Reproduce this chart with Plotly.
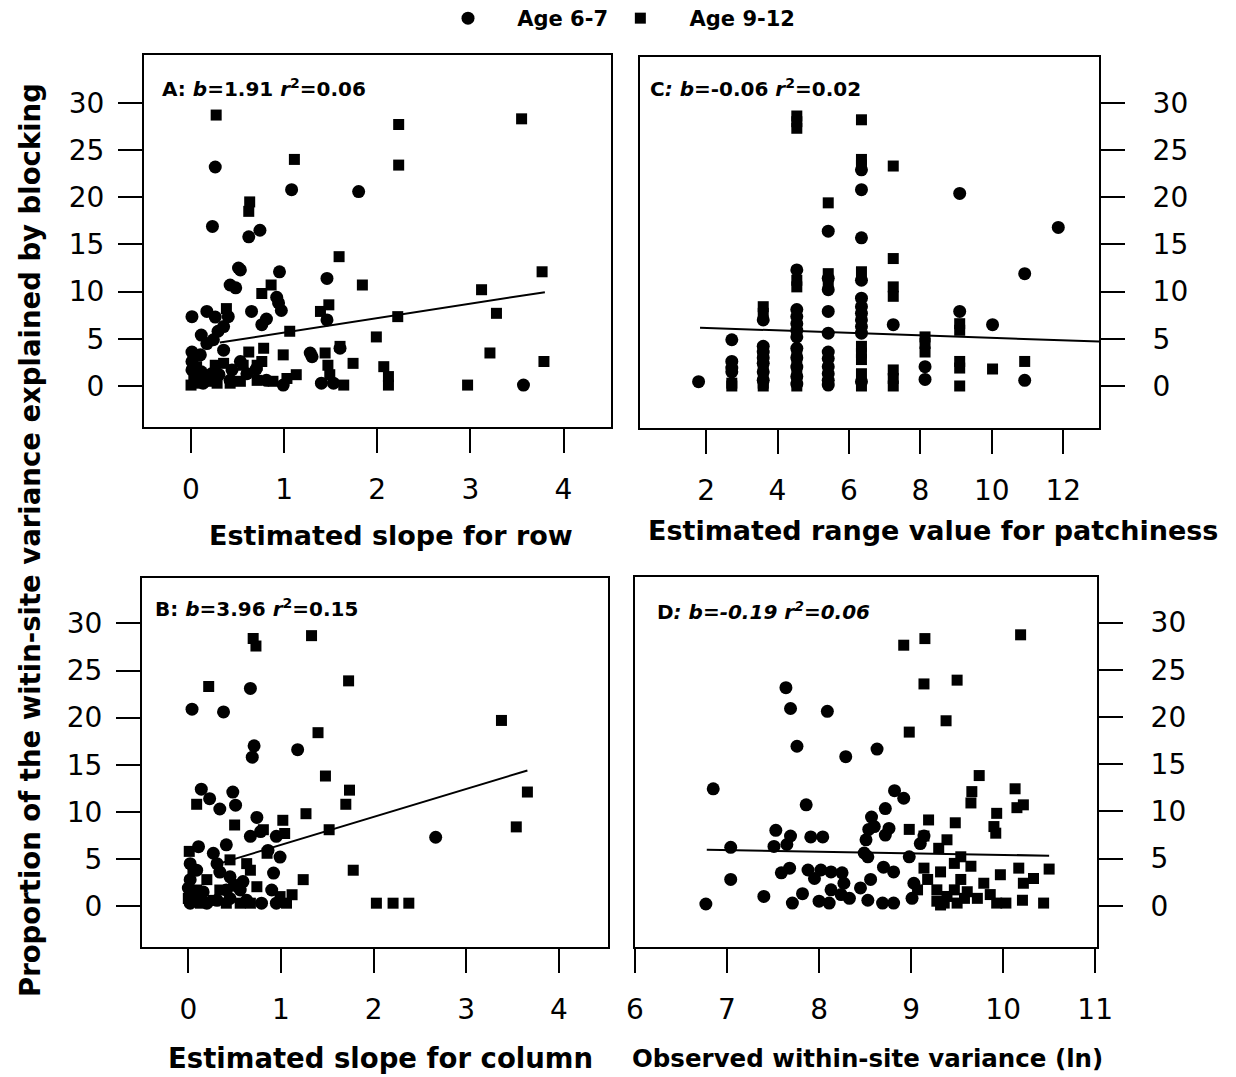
import plotly.graph_objects as go

# ---------------- data ----------------
# Panel A: estimated slope for row
a_circ_x = [0.26, 1.08, 1.80, 0.23, 0.74, 0.62, 0.53, 0.51, 0.95, 1.46, 0.42, 0.48, 0.92, 0.94, 0.97, 0.65,
            0.17, 0.01, 0.26, 0.81, 0.76, 1.46, 0.40, 0.35, 0.29, 0.11, 0.24, 0.35, 0.01, 0.10, 0.17, 1.28,
            1.30, 1.60, 0.53, 0.01, 0.01, 0.11, 0.22, 0.44, 0.60, 0.99, 1.40, 3.57, 0.81, 0.42, 0.13, 1.53,
            0.05, 0.20, 0.30, 0.70]
a_circ_y = [23.2, 20.8, 20.6, 16.9, 16.5, 15.8, 12.3, 12.5, 12.1, 11.4, 10.7, 10.4, 9.4, 8.8, 8.0, 7.9,
            7.9, 7.35, 7.3, 7.1, 6.5, 7.0, 7.35, 6.3, 5.8, 5.4, 4.9, 3.8, 3.6, 3.3, 4.5, 3.5,
            3.1, 4.0, 2.6, 2.6, 1.7, 1.5, 1.3, 1.7, 1.3, 0.1, 0.3, 0.1, 0.6, 0.6, 0.3, 0.3,
            0.8, 1.0, 1.2, 1.8]
a_sq_x = [0.27, 2.23, 3.55, 1.11, 2.23, 0.63, 0.62, 1.59, 3.77, 1.84, 0.86, 0.76, 3.12, 0.38, 1.48, 1.39,
          2.22, 3.28, 1.06, 1.99, 3.21, 3.79, 2.97, 2.07, 2.12, 2.12, 1.44, 1.60, 1.74, 1.47, 1.64, 1.49,
          0.99, 0.78, 0.62, 1.13, 1.03, 0.88, 0.71, 0.53, 0.42, 0.28, 0.17, 0.06, 0.00, 0.56, 0.71, 0.35,
          0.76, 0.26, 0.06, 0.03]
a_sq_y = [28.7, 27.7, 28.3, 24.0, 23.4, 19.5, 18.5, 13.7, 12.1, 10.7, 10.7, 9.8, 10.2, 8.2, 8.6, 7.9,
          7.35, 7.7, 5.8, 5.2, 3.5, 2.6, 0.1, 2.05, 1.0, 0.1, 3.5, 4.2, 2.4, 2.2, 0.1, 1.2,
          3.3, 4.0, 3.6, 1.2, 0.8, 0.5, 0.6, 0.5, 0.3, 0.3, 0.5, 0.3, 0.1, 2.2, 2.2, 2.4,
          2.6, 2.2, 2.05, 1.2]

# Panel B: estimated slope for column
b_circ_x = [0.67, 0.04, 0.38, 0.71, 0.69, 1.18, 2.67, 0.14, 0.23, 0.34, 0.48, 0.51, 0.74, 0.78, 0.95, 0.99,
            0.86, 0.92, 0.79, 0.95, 0.67, 0.41, 0.11, 0.27, 0.02, 0.09, 0.31, 0.34, 0.45, 0.02, 0.00, 0.16,
            0.41, 0.59, 0.56, 0.31, 0.02, 0.20, 0.45, 0.63, 0.90, 0.10, 0.50]
b_circ_y = [23.1, 20.9, 20.6, 17.0, 15.8, 16.6, 7.3, 12.4, 11.4, 10.3, 12.1, 10.7, 9.4, 7.9, 7.4, 5.2,
            5.9, 3.5, 0.3, 0.3, 7.4, 6.5, 6.3, 5.6, 4.5, 3.8, 4.5, 3.6, 3.1, 2.8, 1.9, 1.5,
            1.7, 2.6, 1.7, 0.6, 0.3, 0.3, 0.8, 0.6, 1.7, 1.0, 2.2]
b_sq_x = [0.70, 0.73, 1.33, 0.22, 1.73, 3.38, 1.40, 1.48, 1.74, 3.66, 1.70, 0.09, 1.27, 1.02, 1.04, 1.52,
          0.50, 3.54, 0.01, 1.78, 1.24, 2.03, 2.21, 2.38, 0.63, 0.45, 0.05, 0.09, 0.27, 0.56, 0.74, 0.99,
          1.12, 1.06, 0.13, 0.00, 0.49, 0.67, 0.20, 0.34, 0.85, 0.81, 0.41, 0.67]
b_sq_y = [28.4, 27.6, 28.7, 23.3, 23.9, 19.7, 18.4, 13.8, 12.3, 12.1, 10.8, 10.8, 9.8, 9.1, 7.7, 8.1,
          8.6, 8.4, 5.8, 3.8, 2.8, 0.3, 0.3, 0.3, 4.5, 4.9, 3.8, 1.7, 0.6, 0.3, 2.05, 1.0,
          1.2, 0.3, 0.3, 0.8, 2.2, 3.8, 2.8, 1.7, 5.6, 8.1, 0.3, 0.3]

# Panel C: estimated range value for patchiness
c_circ_x = [1.79, 2.72, 2.72, 2.72, 2.72, 3.60, 3.60, 3.60, 3.60, 3.60, 3.60, 3.60,
            4.54, 4.54, 4.54, 4.54, 4.54, 4.54, 4.54, 4.54, 4.54, 4.54, 4.54,
            5.42, 5.42, 5.42, 5.42, 5.42, 5.42, 5.42, 5.42, 5.42, 5.42, 5.42,
            6.35, 6.35, 6.35, 6.35, 6.35, 6.35, 6.35, 6.35, 6.35, 6.35, 6.35,
            7.24, 8.13, 8.13, 9.10, 9.10, 10.02, 10.92, 10.92, 11.86]
c_circ_y = [0.46, 4.9, 2.6, 1.9, 1.5, 7.0, 4.2, 3.6, 3.0, 2.4, 1.5, 0.6,
            12.3, 8.1, 7.35, 6.6, 5.9, 5.2, 4.0, 3.0, 2.0, 1.0, 0.2,
            16.4, 11.4, 10.2, 7.9, 5.6, 3.6, 2.9, 2.05, 1.3, 0.6, 0.1,
            22.9, 20.8, 15.7, 11.2, 9.3, 8.4, 7.7, 7.0, 6.3, 5.6, 0.46,
            6.5, 2.05, 0.7, 20.4, 7.9, 6.5, 11.9, 0.6, 16.8]
c_sq_x = [2.72, 2.72, 3.60, 3.60, 3.60, 3.60, 3.60, 3.60, 3.60, 3.60,
          4.54, 4.54, 4.54, 4.54, 4.54, 4.54, 4.54, 4.54, 4.54, 4.54,
          5.42, 5.42, 5.42, 6.35, 6.35, 6.35, 6.35, 6.35, 6.35, 6.35, 6.35, 6.35,
          7.24, 7.24, 7.24, 7.24, 7.24, 7.24, 7.24, 8.13, 8.13, 8.13,
          9.10, 9.10, 9.10, 9.10, 9.10, 10.02, 10.92]
c_sq_y = [0.3, 0.0, 8.4, 7.7, 4.0, 3.2, 2.0, 1.0, 0.3, 0.0,
          28.6, 28.0, 27.3, 11.2, 10.5, 3.5, 2.5, 1.5, 0.5, 0.0,
          19.4, 11.9, 11.0, 28.2, 24.0, 23.4, 12.1, 4.2, 3.5, 2.8, 1.3, 0.0,
          23.3, 13.5, 10.5, 9.5, 1.7, 0.8, 0.0, 5.2, 4.5, 3.6,
          6.6, 5.9, 2.6, 1.9, 0.0, 1.8, 2.6]

# Panel D: observed within-site variance (ln)
d_circ_x = [6.77, 6.85, 7.04, 7.04, 7.40, 7.64, 7.69, 7.76, 7.86, 8.09, 8.29, 8.63, 8.82, 8.92, 8.72, 8.57,
            7.53, 7.51, 7.69, 7.65, 7.91, 8.04, 7.59, 7.68, 7.71, 7.82, 7.88, 7.95, 8.02, 8.13, 8.00, 8.11,
            8.13, 8.24, 8.25, 8.33, 8.27, 8.45, 8.53, 8.56, 8.51, 8.49, 8.53, 8.70, 8.81, 8.69, 8.81, 8.98,
            9.03, 9.01, 9.10, 9.14, 8.76, 8.72, 8.60, 8.54]
d_circ_y = [0.2, 12.4, 2.8, 6.2, 1.0, 23.1, 20.9, 16.9, 10.7, 20.6, 15.8, 16.6, 12.2, 11.4, 10.3, 9.4,
            8.0, 6.3, 7.4, 6.5, 7.3, 7.3, 3.5, 4.0, 0.3, 1.3, 3.8, 2.9, 3.8, 3.6, 0.5, 0.3,
            1.7, 1.2, 3.5, 0.8, 2.4, 1.9, 0.6, 2.8, 7.0, 5.6, 5.2, 4.1, 3.6, 0.3, 0.3, 5.2,
            2.4, 0.8, 6.6, 7.4, 8.2, 7.5, 8.4, 8.1]
d_sq_x = [8.92, 9.15, 10.19, 9.14, 9.50, 9.38, 8.98, 9.74, 9.66, 10.13, 9.65, 10.22, 10.15, 9.93, 9.19, 9.48,
          8.98, 9.90, 9.92, 9.39, 9.14, 9.30, 9.54, 9.47, 9.14, 9.65, 9.32, 10.17, 10.50, 10.33, 9.97, 10.22,
          9.79, 9.54, 9.18, 9.28, 9.39, 9.47, 9.61, 9.72, 9.86, 9.93, 10.03, 10.21, 10.44, 9.36, 9.50, 9.28,
          9.58, 9.07, 9.32]
d_sq_y = [27.6, 28.3, 28.7, 23.5, 23.9, 19.6, 18.4, 13.8, 12.1, 12.4, 10.9, 10.7, 10.4, 9.8, 9.1, 8.8,
          8.1, 8.4, 7.7, 7.0, 7.4, 6.1, 5.2, 4.5, 4.0, 4.2, 3.6, 4.0, 3.9, 2.9, 3.3, 2.4,
          2.4, 2.8, 2.8, 1.7, 1.0, 1.7, 1.5, 0.8, 1.2, 0.3, 0.3, 0.6, 0.3, 0.3, 0.3, 0.5,
          0.8, 1.7, 0.1]

# fitted lines (A, B, C, D): intercept, slope and x extent
fit_intercept = [4.13, 3.52, 6.42, 7.09]
fit_slope = [1.53, 2.97, -0.132, -0.169]
fit_xmin = [0.31, 0.34, 1.83, 6.78]
fit_xmax = [3.80, 3.66, 13.0, 10.50]

panel_labels = [
    "<b>A: <i>b</i>=1.91 <i>r</i><sup>2</sup>=0.06</b>",
    "<b>B: <i>b</i>=3.96 <i>r</i><sup>2</sup>=0.15</b>",
    "<b>C<i>:</i> <i>b</i>=-0.06 <i>r</i><sup>2</sup>=0.02</b>",
    "<b>D<i>: b=-0.19 r<sup>2</sup>=0.06</i></b>",
]
x_titles = ["Estimated slope for row", "Estimated slope for column",
            "Estimated range value for patchiness", "Observed within-site variance (ln)"]
y_title = "Proportion of the witin-site variance explained by blocking"
legend_names = ["Age 6-7", "Age 9-12"]
y_ticks = [0, 5, 10, 15, 20, 25, 30]
x_ticks = [[0, 1, 2, 3, 4], [0, 1, 2, 3, 4], [2, 4, 6, 8, 10, 12], [6, 7, 8, 9, 10, 11]]

# ---------------- layout geometry (pixels) ----------------
W, H = 1236, 1077
FONT = "DejaVu Sans"
frames = {  # left, right, top, bottom
    "A": (144, 611, 55, 427),
    "B": (142, 608, 578, 947),
    "C": (640, 1099, 57, 428),
    "D": (635, 1097, 577, 947),
}
x_ranges = {"A": [-0.505, 4.51], "B": [-0.50, 4.53], "C": [0.15, 13.0], "D": [6.0, 11.02]}
y_ranges = {"A": [-4.34, 35.06], "B": [-4.35, 34.82], "C": [-4.45, 34.85], "D": [-4.35, 34.82]}

def px_dom_x(l, r):
    return [l / W, r / W]

def px_dom_y(t, b):
    return [1 - b / H, 1 - t / H]

fig = go.Figure()

panels = [
    ("A", a_circ_x, a_circ_y, a_sq_x, a_sq_y, 0, "x", "y"),
    ("B", b_circ_x, b_circ_y, b_sq_x, b_sq_y, 1, "x2", "y2"),
    ("C", c_circ_x, c_circ_y, c_sq_x, c_sq_y, 2, "x3", "y3"),
    ("D", d_circ_x, d_circ_y, d_sq_x, d_sq_y, 3, "x4", "y4"),
]

PAD = "\u00a0" * 4
for name, cx, cy, sx, sy, i, xa, ya in panels:
    fig.add_trace(go.Scatter(x=cx, y=cy, mode="markers", xaxis=xa, yaxis=ya,
                             marker=dict(symbol="circle", size=13, color="black", line=dict(width=0)),
                             name="<b>" + PAD + legend_names[0] + "\u00a0</b>", showlegend=(i == 0),
                             cliponaxis=False))
    fig.add_trace(go.Scatter(x=sx, y=sy, mode="markers", xaxis=xa, yaxis=ya,
                             marker=dict(symbol="square", size=11, color="black", line=dict(width=0)),
                             name="<b>" + PAD + legend_names[1] + "</b>", showlegend=(i == 0),
                             cliponaxis=False))
    lx = [fit_xmin[i], fit_xmax[i]]
    ly = [fit_intercept[i] + fit_slope[i] * v for v in lx]
    fig.add_trace(go.Scatter(x=lx, y=ly, mode="lines", xaxis=xa, yaxis=ya,
                             line=dict(color="black", width=2), showlegend=False, hoverinfo="skip"))

axis_common = dict(showline=True, linecolor="black", linewidth=2, mirror=True, ticks="outside",
                   ticklen=24, tickwidth=1.5, tickcolor="black", showgrid=False, zeroline=False,
                   tickfont=dict(family=FONT, size=28, color="black"), automargin=False)

layout = dict(width=W, height=H, margin=dict(l=0, r=0, t=0, b=0, autoexpand=False),
              paper_bgcolor="white", plot_bgcolor="white",
              font=dict(family=FONT, color="black"))
axes_ids = {"A": ("xaxis", "yaxis", "y", "x"), "B": ("xaxis2", "yaxis2", "y2", "x2"),
            "C": ("xaxis3", "yaxis3", "y3", "x3"), "D": ("xaxis4", "yaxis4", "y4", "x4")}
for idx, key in enumerate(["A", "B", "C", "D"]):
    l, r, t, b = frames[key]
    xk, yk, yanchor, xanchor = axes_ids[key]
    layout[xk] = dict(axis_common, domain=px_dom_x(l, r), range=x_ranges[key], anchor=yanchor,
                      tickvals=x_ticks[idx], ticklabelstandoff=12)
    layout[yk] = dict(axis_common, domain=px_dom_y(t, b), range=y_ranges[key], anchor=xanchor,
                      tickvals=y_ticks, side=("right" if key in ("C", "D") else "left"),
                      ticklabelstandoff=(8 if key in ("A", "B") else 22))
fig.update_layout(**layout)

annotations = []
label_pos = {"A": (160, 88), "B": (153, 608), "C": (648, 88), "D": (655, 611)}
for k, lab in zip(["A", "B", "C", "D"], panel_labels):
    x, y = label_pos[k]
    annotations.append(dict(x=x / W, y=1 - y / H, xref="paper", yref="paper", text=lab, showarrow=False,
                            xanchor="left", yanchor="middle", font=dict(family=FONT, size=20, color="black")))
title_pos = [(391, 535), (380, 1058), (933, 530), (867, 1058)]
title_size = [27, 27.5, 27, 24.5]
for t, (x, y), s in zip(x_titles, title_pos, title_size):
    annotations.append(dict(x=x / W, y=1 - y / H, xref="paper", yref="paper", text="<b>" + t + "</b>",
                            showarrow=False, xanchor="center", yanchor="middle",
                            font=dict(family=FONT, size=s, color="black")))
annotations.append(dict(x=30 / W, y=1 - 540 / H, xref="paper", yref="paper", text="<b>" + y_title + "</b>",
                        showarrow=False, textangle=-90, xanchor="center", yanchor="middle",
                        font=dict(family=FONT, size=27.5, color="black")))
fig.update_layout(annotations=annotations)

fig.update_layout(legend=dict(orientation="h", x=448 / W, y=1.0 + 2 / H, xanchor="left", yanchor="top",
                              font=dict(family=FONT, size=21, color="black"), bgcolor="rgba(0,0,0,0)",
                              itemsizing="trace"))

fig.write_html("out.html", config={"displayModeBar": False},
               post_script="document.body.style.margin='0';document.body.style.padding='0';"
                           "document.body.style.overflow='hidden';")
